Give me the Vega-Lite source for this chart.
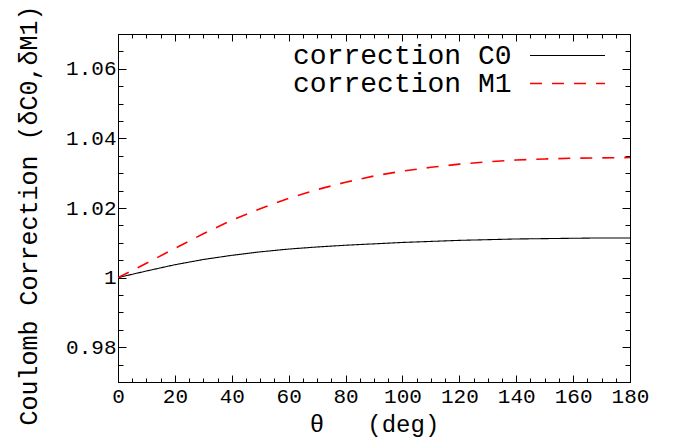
{
  "$schema": "https://vega.github.io/schema/vega-lite/v6.json",
  "width": 512,
  "height": 348,
  "autosize": {"type": "none"},
  "padding": {"left": 118, "top": 34, "right": 59, "bottom": 60},
  "background": "white",
  "config": {
    "view": {"stroke": null},
    "font": "Liberation Mono",
    "axis": {
      "grid": false,
      "domainColor": "black",
      "domainWidth": 1,
      "tickColor": "black",
      "labelFont": "Liberation Mono",
      "titleFont": "Liberation Mono",
      "labelColor": "black",
      "titleColor": "black",
      "titleFontWeight": "normal",
      "labelFontSize": 21,
      "labelFlush": false,
      "labelOverlap": false
    },
    "legend": {
      "padding": 0,
      "labelFont": "Liberation Mono",
      "labelFontSize": 28,
      "labelColor": "black",
      "labelAlign": "right",
      "labelOffset": -70,
      "symbolType": "M-3,0H3",
      "symbolSize": 625,
      "symbolStrokeWidth": 1.5,
      "rowPadding": 0,
      "labelLimit": 400
    }
  },
  "data": {
    "values": [
      {"theta": 0, "value": 1.0, "series": "correction C0"},
      {"theta": 10, "value": 1.0019, "series": "correction C0"},
      {"theta": 20, "value": 1.0037, "series": "correction C0"},
      {"theta": 30, "value": 1.0052, "series": "correction C0"},
      {"theta": 40, "value": 1.0064, "series": "correction C0"},
      {"theta": 50, "value": 1.0074, "series": "correction C0"},
      {"theta": 60, "value": 1.0082, "series": "correction C0"},
      {"theta": 70, "value": 1.0088, "series": "correction C0"},
      {"theta": 80, "value": 1.0093, "series": "correction C0"},
      {"theta": 90, "value": 1.0097, "series": "correction C0"},
      {"theta": 100, "value": 1.0101, "series": "correction C0"},
      {"theta": 110, "value": 1.0104, "series": "correction C0"},
      {"theta": 120, "value": 1.0107, "series": "correction C0"},
      {"theta": 130, "value": 1.0109, "series": "correction C0"},
      {"theta": 140, "value": 1.0111, "series": "correction C0"},
      {"theta": 150, "value": 1.0112, "series": "correction C0"},
      {"theta": 160, "value": 1.0113, "series": "correction C0"},
      {"theta": 170, "value": 1.0114, "series": "correction C0"},
      {"theta": 180, "value": 1.0114, "series": "correction C0"},
      {"theta": 0, "value": 1.0, "series": "correction M1"},
      {"theta": 10, "value": 1.0041, "series": "correction M1"},
      {"theta": 20, "value": 1.0084, "series": "correction M1"},
      {"theta": 30, "value": 1.0126, "series": "correction M1"},
      {"theta": 40, "value": 1.0165, "series": "correction M1"},
      {"theta": 50, "value": 1.0198, "series": "correction M1"},
      {"theta": 60, "value": 1.0228, "series": "correction M1"},
      {"theta": 70, "value": 1.0253, "series": "correction M1"},
      {"theta": 80, "value": 1.0274, "series": "correction M1"},
      {"theta": 90, "value": 1.0292, "series": "correction M1"},
      {"theta": 100, "value": 1.0306, "series": "correction M1"},
      {"theta": 110, "value": 1.0317, "series": "correction M1"},
      {"theta": 120, "value": 1.0326, "series": "correction M1"},
      {"theta": 130, "value": 1.0333, "series": "correction M1"},
      {"theta": 140, "value": 1.0338, "series": "correction M1"},
      {"theta": 150, "value": 1.0341, "series": "correction M1"},
      {"theta": 160, "value": 1.0343, "series": "correction M1"},
      {"theta": 170, "value": 1.0344, "series": "correction M1"},
      {"theta": 180, "value": 1.0345, "series": "correction M1"}
    ]
  },
  "resolve": {"axis": {"x": "independent", "y": "independent"}},
  "layer": [
    {
      "mark": {"type": "line", "opacity": 0},
      "encoding": {
        "detail": {"field": "series"},
        "x": {"field": "theta", "type": "quantitative", "scale": {"domain": [0, 180], "nice": false, "zero": false},
          "axis": {"orient": "bottom", "values": [0,5,10,15,20,25,30,35,40,45,50,55,60,65,70,75,80,85,90,95,100,105,110,115,120,125,130,135,140,145,150,155,160,165,170,175,180], "labels": false, "title": null, "domain": false, "tickSize": -4}},
        "y": {"field": "value", "type": "quantitative", "scale": {"domain": [0.97, 1.07], "nice": false, "zero": false},
          "axis": {"orient": "left", "values": [0.97,0.975,0.98,0.985,0.99,0.995,1,1.005,1.01,1.015,1.02,1.025,1.03,1.035,1.04,1.045,1.05,1.055,1.06,1.065,1.07], "labels": false, "title": null, "domain": false, "tickSize": -5}}
      }
    },
    {
      "mark": {"type": "line", "opacity": 0},
      "encoding": {
        "detail": {"field": "series"},
        "x": {"field": "theta", "type": "quantitative",
          "axis": {"orient": "top", "values": [0,5,10,15,20,25,30,35,40,45,50,55,60,65,70,75,80,85,90,95,100,105,110,115,120,125,130,135,140,145,150,155,160,165,170,175,180], "labels": false, "title": null, "domain": false, "tickSize": -4}},
        "y": {"field": "value", "type": "quantitative",
          "axis": {"orient": "right", "values": [0.97,0.975,0.98,0.985,0.99,0.995,1,1.005,1.01,1.015,1.02,1.025,1.03,1.035,1.04,1.045,1.05,1.055,1.06,1.065,1.07], "labels": false, "title": null, "domain": false, "tickSize": -5}}
      }
    },
    {
      "mark": {"type": "line", "opacity": 0},
      "encoding": {
        "detail": {"field": "series"},
        "x": {"field": "theta", "type": "quantitative",
          "axis": {"orient": "top", "values": [0,20,40,60,80,100,120,140,160,180], "labels": false, "title": null, "tickSize": -7}},
        "y": {"field": "value", "type": "quantitative",
          "axis": {"orient": "right", "values": [0.98,1,1.02,1.04,1.06], "labels": false, "title": null, "tickSize": -8}}
      }
    },
    {
      "mark": {"type": "line", "clip": true},
      "encoding": {
        "x": {"field": "theta", "type": "quantitative",
          "axis": {"orient": "bottom", "values": [0,20,40,60,80,100,120,140,160,180], "tickSize": -7, "labelPadding": 10, "labelDx": 6,
            "title": "θ\u00a0\u00a0\u00a0(deg)", "titleFontSize": 24, "titleX": 256, "titleY": 42, "titleBaseline": "middle", "titleAlign": "center"}},
        "y": {"field": "value", "type": "quantitative",
          "axis": {"orient": "left", "values": [0.98,1,1.02,1.04,1.06], "tickSize": -8, "labelPadding": 10, "labelExpr": "'' + datum.value",
            "title": "Coulomb Correction (δC0,δM1)", "titleFontSize": 25, "titleAngle": -90, "titleX": -90, "titleY": 181, "titleBaseline": "middle", "titleAlign": "center"}},
        "color": {"field": "series", "type": "nominal",
          "scale": {"domain": ["correction C0", "correction M1"], "range": ["black", "#ff0000"]},
          "legend": {"title": null, "orient": "none", "legendX": 435.5, "legendY": 7.5}},
        "strokeDash": {"field": "series", "type": "nominal",
          "scale": {"domain": ["correction C0", "correction M1"], "range": [[1, 0], [12, 10]]},
          "legend": {"title": null, "orient": "none", "legendX": 435.5, "legendY": 7.5}},
        "strokeWidth": {"field": "series", "type": "nominal", "legend": null,
          "scale": {"domain": ["correction C0", "correction M1"], "range": [1.1, 1.6]}}
      }
    }
  ]
}
